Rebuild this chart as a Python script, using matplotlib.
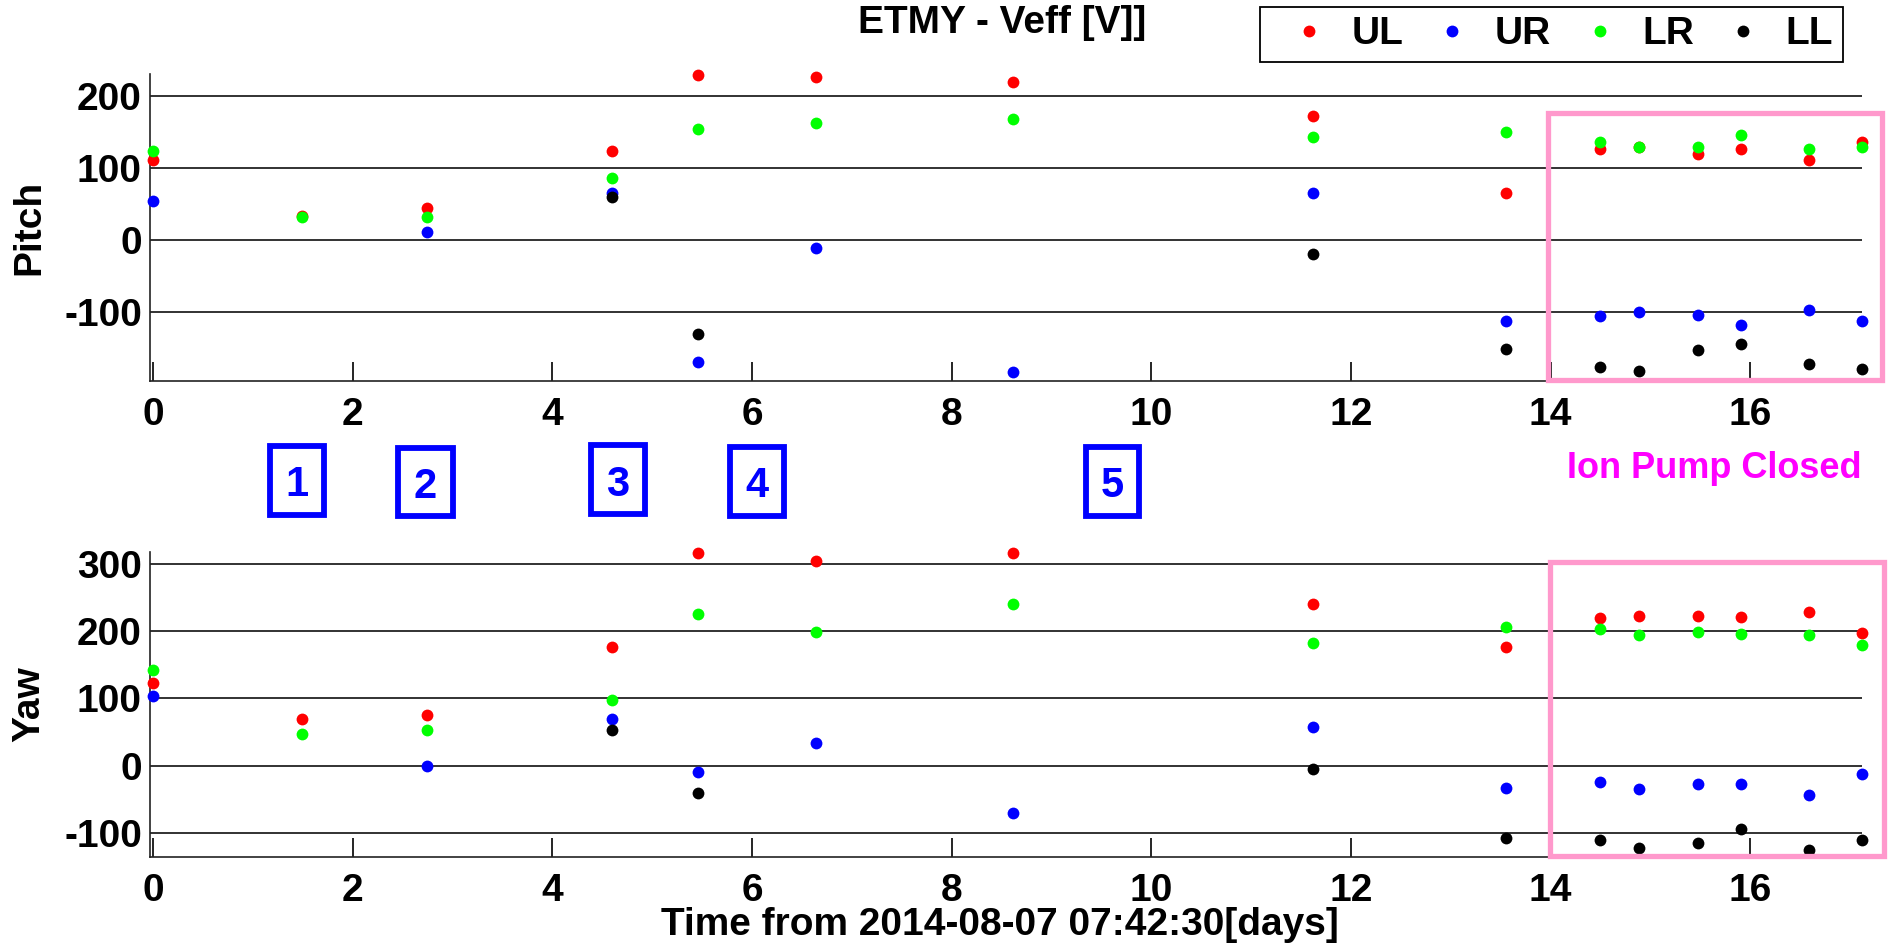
import numpy as np
import matplotlib
matplotlib.use('Agg')
import matplotlib.pyplot as plt
from matplotlib.patches import Rectangle

nan = np.nan

# time of each measurement [days]
t = [0.0, 1.49, 2.74, 4.60, 5.46, 6.64, 8.62, 11.62, 13.55, 14.50, 14.89, 15.48, 15.91, 16.59, 17.12]

# pitch
pitch_ul = [111, 34, 44, 124, 229, 227, 220, 173, 65, 127, 129, 120, 126, 111, 137]
pitch_ur = [54, nan, 11, 66, -170, -11, -184, 65, -112, -106, -100, -104, -118, -97, -113]
pitch_lr = [124, 32, 32, 86, 154, 163, 169, 143, 150, 137, 129, 130, 146, 127, 130]
pitch_ll = [nan, nan, nan, 60, -130, nan, nan, -20, -152, -177, -182, -153, -144, -172, -179]

# yaw
yaw_ul = [123, 70, 75, 176, 317, 304, 317, 241, 176, 220, 222, 222, 221, 229, 197]
yaw_ur = [103, nan, -1, 70, -10, 33, -70, 57, -33, -25, -35, -28, -28, -43, -13]
yaw_lr = [143, 47, 53, 98, 226, 199, 241, 183, 207, 204, 194, 199, 196, 194, 180]
yaw_ll = [nan, nan, nan, 53, -41, nan, nan, -5, -108, -111, -123, -115, -95, -125, -111]

labels = ['UL', 'UR', 'LR', 'LL']
colors = ['#FF0000', '#0000FF', '#00FF00', '#000000']
box_labels = ['1', '2', '3', '4', '5']

plt.rcParams['font.family'] = ['Liberation Sans', 'DejaVu Sans']
plt.rcParams['font.weight'] = 'bold'
plt.rcParams['axes.unicode_minus'] = False

W, H = 1893, 951
fig = plt.figure(figsize=(W / 100, H / 100), dpi=100, facecolor='white')


def px_rect(x0, y0, x1, y1):
    # pixel box (top-left origin) -> figure fraction [l, b, w, h]
    return [x0 / W, 1 - y1 / H, (x1 - x0) / W, (y1 - y0) / H]


ax1 = fig.add_axes(px_rect(150, 74, 1862, 381))
ax2 = fig.add_axes(px_rect(150, 552, 1862, 857))

panels = [
    (ax1, [pitch_ul, pitch_ur, pitch_lr, pitch_ll], 'Pitch', (-196, 231), [-100, 0, 100, 200]),
    (ax2, [yaw_ul, yaw_ur, yaw_lr, yaw_ll], 'Yaw', (-136, 318), [-100, 0, 100, 200, 300]),
]

for ax, series, ylab, ylim, yticks in panels:
    for vals, lab, c in zip(series, labels, colors):
        ax.plot(t, vals, linestyle='none', marker='o', markersize=8.5, color=c,
                markeredgewidth=0, label=lab, clip_on=False, zorder=3)
    ax.set_xlim(-0.03, 17.12)
    ax.set_ylim(*ylim)
    ax.set_yticks(yticks)
    ax.set_xticks([0, 2, 4, 6, 8, 10, 12, 14, 16])
    ax.yaxis.grid(True, color='#222222', linewidth=1.3)
    ax.set_axisbelow(True)
    for s in ['top', 'right']:
        ax.spines[s].set_visible(False)
    for s in ['left', 'bottom']:
        ax.spines[s].set_linewidth(1.2)
        ax.spines[s].set_color('#222222')
    ax.tick_params(axis='x', direction='in', length=14, width=1.2, pad=11.5, labelsize=28)
    ax.tick_params(axis='y', length=0, pad=5.8, labelsize=28)
    ax.set_ylabel(ylab, fontsize=28, fontweight='bold', va='center')
    ax.yaxis.set_label_coords(-0.0707, 0.5)

ax2.set_xlabel('Time from 2014-08-07 07:42:30[days]', fontsize=28, fontweight='bold')
ax2.xaxis.set_label_coords(0.4965, -0.164)

ax1.set_title('ETMY - Veff [V]]', fontsize=28, fontweight='bold', x=0.498, y=1.105, va='baseline')

leg = ax1.legend(loc='upper left', bbox_to_anchor=(1260 / W, 1 - 6.5 / H),
                 bbox_transform=fig.transFigure, ncol=4, fontsize=28, frameon=True,
                 fancybox=False, framealpha=1, edgecolor='black', borderaxespad=0,
                 borderpad=0.25, handlelength=2.0, handletextpad=0.1, columnspacing=0.25,
                 markerscale=1.0)
leg.get_frame().set_linewidth(1.3)
for txt in leg.get_texts():
    txt.set_fontweight('bold')

# ion pump closed regions
for box in [(1548, 113, 1882, 380), (1550, 562, 1884, 856)]:
    fig.add_artist(Rectangle(px_rect(*box)[:2], *px_rect(*box)[2:], transform=fig.transFigure,
                             fill=False, edgecolor='#FF99CC', linewidth=3.8, zorder=5))
fig.text(1714 / W, 1 - 478 / H, 'Ion Pump Closed', color='#FF00FF', fontsize=26,
         fontweight='bold', ha='center', va='baseline')

# numbered event boxes
box_px = [(270, 446, 324, 515), (398, 448, 453, 516), (591, 445, 645, 514),
          (730, 447, 784, 516), (1086, 447, 1139, 516)]
for lab, (x0, y0, x1, y1) in zip(box_labels, box_px):
    r = px_rect(x0, y0, x1, y1)
    fig.add_artist(Rectangle(r[:2], r[2], r[3], transform=fig.transFigure, fill=False,
                             edgecolor='#0000FF', linewidth=4.2, zorder=5))
    fig.text((x0 + x1) / 2 / W, 1 - ((y0 + y1) / 2 + 16) / H, lab, color='#0000FF',
             fontsize=30, fontweight='bold', ha='center', va='baseline')

fig.savefig('out.png', dpi=100)
